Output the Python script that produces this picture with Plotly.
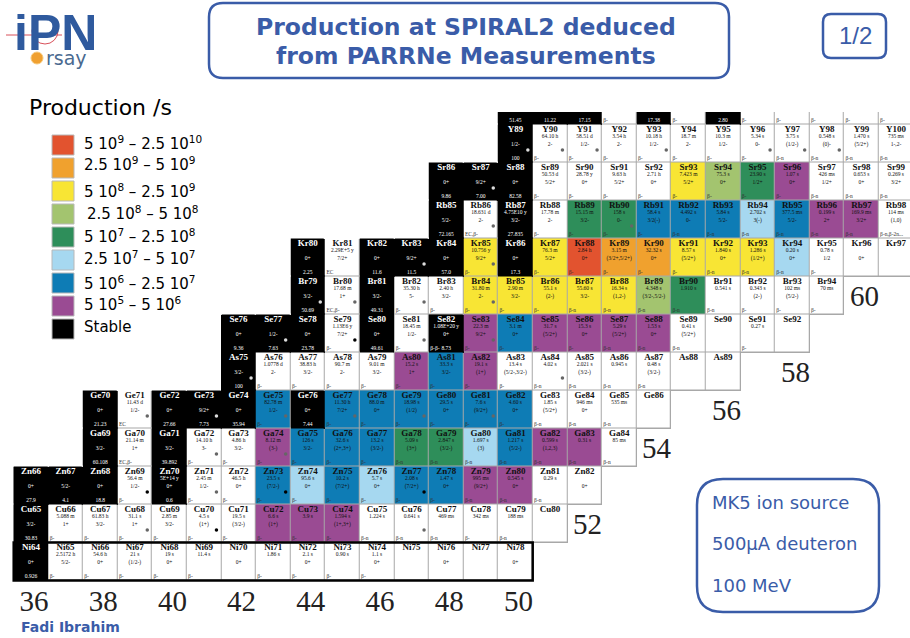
import plotly.graph_objects as go

# ---------- legend ----------
LEGEND_LABELS = ["5 10<sup>9</sup> – 2.5 10<sup>10</sup>", "2.5 10<sup>9</sup> – 5 10<sup>9</sup>",
                 "5 10<sup>8</sup> – 2.5 10<sup>9</sup>", "2.5 10<sup>8</sup> – 5 10<sup>8</sup>",
                 "5 10<sup>7</sup> – 2.5 10<sup>8</sup>", "2.5 10<sup>7</sup> – 5 10<sup>7</sup>",
                 "5 10<sup>6</sup> – 2.5 10<sup>7</sup>", "5 10<sup>5</sup> – 5 10<sup>6</sup>", "Stable"]
LEGEND_CODES = ["R", "O", "Y", "L", "G", "C", "B", "P", "K"]
CODE_COLORS = {"W": "#ffffff", "R": "#e2532f", "O": "#f0a12e", "Y": "#f8e534", "L": "#a3c46f",
               "G": "#2e8e5a", "C": "#a6d8f0", "B": "#0e7cb5", "P": "#9a4b93", "K": "#000000"}
CODE_ORDER = ["W", "R", "O", "Y", "L", "G", "C", "B", "P", "K"]

# ---------- isotope rows: symbol, Z, first N, production class, half-life, spin, abundance ----------
NI_CAT = "KWWWWWWWWWWWWWW"
NI_HL = ["", "2.5172 h", "54.6 h", "21 s", "19 s", "11.4 s", "", "1.86 s", "2.1 s", "0.90 s", "1.1 s", "", "", "", ""]
NI_SP = ["0+", "5/2-", "0+", "(1/2-)", "0+", "", "0+", "", "0+", "", "0+", "", "0+", "", "0+"]
NI_AB = ["0.926"]

CU_CAT = "KWWWWWWPPPWWWWWW"
CU_HL = ["", "5.088 m", "61.83 h", "31.1 s", "2.85 m", "4.5 s", "19.5 s", "6.6 s", "3.9 s", "1.594 s", "1.224 s", "0.641 s", "469 ms", "342 ms", "188 ms", ""]
CU_SP = ["3/2-", "1+", "3/2-", "1+", "3/2-", "(1+)", "(3/2-)", "(1+)", "", "(1+,3+)", "", "", "", "", "", ""]
CU_AB = ["30.83"]

ZN_CAT = "KKKWKWWBCBCBBPPWW"
ZN_HL = ["", "", "", "56.4 m", "5E+14 y", "2.45 m", "46.5 h", "23.5 s", "95.6 s", "10.2 s", "5.7 s", "2.08 s", "1.47 s", "995 ms", "0.545 s", "0.29 s", ""]
ZN_SP = ["0+", "5/2-", "0+", "1/2-", "0+", "1/2-", "0+", "(7/2-)", "0+", "(7/2+)", "0+", "(7/2+)", "0+", "(9/2+)", "0+", "", "0+"]
ZN_AB = ["27.9", "4.1", "18.8", "0.6"]

GA_CAT = "KWKWWPBBBGGCBPPW"
GA_HL = ["", "21.14 m", "", "14.10 h", "4.86 h", "8.12 m", "126 s", "32.6 s", "13.2 s", "5.09 s", "2.847 s", "1.697 s", "1.217 s", "0.599 s", "0.31 s", "85 ms"]
GA_SP = ["3/2-", "1+", "3/2-", "3-", "3/2-", "(3-)", "3/2-", "(2+,3+)", "(3/2-)", "(3+)", "(3/2-)", "(3)", "(5/2-)", "(1,2,3)", "", ""]
GA_AB = ["60.108", "39.892"]

GE_CAT = "KWKKKBKBBBBBBWWWW"
GE_HL = ["", "11.43 d", "", "", "", "82.78 m", "", "11.30 h", "88.0 m", "18.98 s", "29.5 s", "7.6 s", "4.60 s", "1.85 s", "946 ms", "535 ms", ""]
GE_SP = ["0+", "1/2-", "0+", "9/2+", "0+", "1/2-", "0+", "7/2+", "0+", "(1/2)", "0+", "(9/2+)", "0+", "(5/2+)", "0+", "", ""]
GE_AB = ["21.23", "27.66", "7.73", "35.94", "7.44"]

AS_CAT = "KWWWWPBPWWWWWWW"
AS_HL = ["", "1.0778 d", "38.83 h", "90.7 m", "9.01 m", "15.2 s", "33.3 s", "19.1 s", "13.4 s", "4.02 s", "2.021 s", "0.945 s", "0.48 s", "", ""]
AS_SP = ["3/2-", "2-", "3/2-", "2-", "3/2-", "1+", "3/2-", "(1+)", "(5/2-,3/2-)", "", "(3/2-)", "", "(3/2-)", "", ""]
AS_AB = ["100"]

SE_CAT = "KKKWKWKPBPPPPWWWW"
SE_HL = ["", "", "", "1.13E6 y", "", "18.45 m", "1.08E+20 y", "22.3 m", "3.1 m", "31.7 s", "15.3 s", "5.29 s", "1.53 s", "0.41 s", "", "0.27 s", ""]
SE_SP = ["0+", "1/2-", "0+", "7/2+", "0+", "1/2-", "0+", "9/2+", "0+", "(5/2+)", "0+", "(5/2+)", "0+", "(5/2+)", "", "", ""]
SE_AB = ["9.36", "7.63", "23.78", "49.61", "8.73"]

BR_CAT = "KWKWWYYYYYLGWWWW"
BR_HL = ["", "17.68 m", "", "35.30 h", "2.40 h", "31.80 m", "2.90 m", "55.1 s", "55.60 s", "16.34 s", "4.348 s", "1.910 s", "0.541 s", "0.343 s", "102 ms", "70 ms"]
BR_SP = ["3/2-", "1+", "3/2-", "5-", "3/2-", "2-", "3/2-", "(2-)", "3/2-", "(1,2-)", "(3/2-,5/2-)", "", "", "(2-)", "(5/2-)", ""]
BR_AB = ["50.69", "49.31"]

KR_CAT = "KWKKKYKYROOYYYCWWW"
KR_HL = ["", "2.29E+5 y", "", "", "", "10.756 y", "", "76.3 m", "2.84 h", "3.15 m", "32.32 s", "8.57 s", "1.840 s", "1.286 s", "0.20 s", "0.78 s", "", ""]
KR_SP = ["0+", "7/2+", "0+", "9/2+", "0+", "9/2+", "0+", "5/2+", "0+", "(3/2+,5/2+)", "0+", "(5/2+)", "0+", "(1/2+)", "0+", "1/2", "0+", ""]
KR_AB = ["2.25", "11.6", "11.5", "57.0", "17.3"]

RB_CAT = "KWKWGGBBBCBPPW"
RB_HL = ["", "18.631 d", "4.75E10 y", "17.78 m", "15.15 m", "158 s", "58.4 s", "4.492 s", "5.84 s", "2.702 s", "377.5 ms", "0.199 s", "169.9 ms", "114 ms"]
RB_SP = ["5/2-", "2-", "3/2-", "2-", "3/2-", "0-", "3/2(-)", "0-", "5/2-", "3(-)", "5/2-", "2+", "3/2+", "(1,0)"]
RB_AB = ["72.165", "27.835"]

SR_CAT = "KKKWWWWYLGPWWW"
SR_HL = ["", "", "", "50.53 d", "28.78 y", "9.63 h", "2.71 h", "7.423 m", "75.3 s", "23.90 s", "1.07 s", "426 ms", "0.653 s", "0.269 s"]
SR_SP = ["0+", "9/2+", "0+", "5/2+", "0+", "5/2+", "0+", "5/2+", "0+", "1/2+", "0+", "1/2+", "0+", "3/2+"]
SR_AB = ["9.86", "7.00", "82.58"]

Y_CAT = "KWWWWWWWWWWW"
Y_HL = ["", "64.10 h", "58.51 d", "3.54 h", "10.18 h", "18.7 m", "10.3 m", "5.34 s", "3.75 s", "0.548 s", "1.470 s", "735 ms"]
Y_SP = ["1/2-", "2-", "1/2-", "2-", "1/2-", "2-", "1/2-", "0-", "(1/2-)", "(0)-", "(5/2+)", "1-,2-"]
Y_AB = ["100"]

ZR_CAT = "KKKWKWKWWWWW"
ZR_HL = [""] * 12
ZR_SP = [""] * 12
ZR_AB = ["51.45", "11.22", "17.15", "17.38", "2.80"]

ROWS = [("Ni", 28, 36, NI_CAT, NI_HL, NI_SP, NI_AB), ("Cu", 29, 36, CU_CAT, CU_HL, CU_SP, CU_AB),
        ("Zn", 30, 36, ZN_CAT, ZN_HL, ZN_SP, ZN_AB), ("Ga", 31, 38, GA_CAT, GA_HL, GA_SP, GA_AB),
        ("Ge", 32, 38, GE_CAT, GE_HL, GE_SP, GE_AB), ("As", 33, 42, AS_CAT, AS_HL, AS_SP, AS_AB),
        ("Se", 34, 42, SE_CAT, SE_HL, SE_SP, SE_AB), ("Br", 35, 44, BR_CAT, BR_HL, BR_SP, BR_AB),
        ("Kr", 36, 44, KR_CAT, KR_HL, KR_SP, KR_AB), ("Rb", 37, 48, RB_CAT, RB_HL, RB_SP, RB_AB),
        ("Sr", 38, 48, SR_CAT, SR_HL, SR_SP, SR_AB), ("Y", 39, 50, Y_CAT, Y_HL, Y_SP, Y_AB),
        ("Zr", 40, 50, ZR_CAT, ZR_HL, ZR_SP, ZR_AB)]

ISOMER_GREY = ["Y89", "Y90", "Y91", "Y93", "Y96", "Y97", "Y98", "Sr87", "Rb86", "Rb90", "Kr83", "Kr85", "Br79", "Br80",
               "Br82", "Br84", "Se77", "Se81", "Se83", "As75", "As84", "Ge71", "Ge73", "Ge75", "Ge77", "Ge79", "Ge81",
               "Ga72", "Ga74", "Zn71", "Cu68", "Cu76"]
ISOMER_BLACK = ["Se79", "Zn69", "Zn73", "Zn77", "Cu70"]
DECAY_BN = ["Cu75", "Cu76", "Cu77", "Cu79", "Zn79", "Zn80", "Zn81", "Ga78", "Ga79", "Ga80", "Ga81", "Ga82", "Ga83", "Ga84",
            "Ge83", "Ge84", "Ge85", "As84", "As85", "As86", "As87", "Se87", "Se88", "Se89", "Br87", "Br88", "Br89", "Br90",
            "Br91", "Kr92", "Kr93", "Kr94", "Rb92", "Rb93", "Rb94", "Rb95", "Rb96", "Rb97", "Sr97", "Sr98", "Sr99",
            "Y97", "Y98", "Y99", "Y100"]
DECAY_EC = {"Ge71": "EC", "Kr81": "EC", "Rb86": "EC,β-", "Br80": "EC,β-", "Ga70": "EC,β-", "Se82": "β-β-", "Rb98": "β-n,β-2n..."}

MAGIC_N = [52, 54, 56, 58, 60]
MAGIC_Z = [29, 31, 32, 33, 35]
TICK_N = [36, 38, 40, 42, 44, 46, 48, 50]

BLUE = "#3a5ca8"
W, H = 910, 638
X_N36, DX = 31.0, 34.6
Y_Z28, DY = 561.5, 38.0
PLOT_TOP, PLOT_BOTTOM = 112, 582


def px(x):
    return x / W


def py(y):
    return 1 - y / H


# ---------- build matrices and text lists ----------
ns = list(range(36, 62))
zs = list(range(28, 41))
cat_m = [[None] * len(ns) for _ in zs]
base_m = [[None] * len(ns) for _ in zs]
name = dict(x=[], y=[], t=[], c=[])
small = dict(x=[], y=[], t=[], c=[])
beta = dict(x=[], y=[], t=[], c=[])
dots = dict(x=[], y=[], c=[])

for sym, z, n0, cats, hls, sps, abs_ in ROWS:
    ab_iter = iter(abs_)
    for i, code in enumerate(cats):
        n = n0 + i
        a = z + n
        label_txt = f"{sym}{a}"
        ri, ci = z - 28, n - 36
        cat_m[ri][ci] = CODE_ORDER.index(code)
        base_m[ri][ci] = 1 if code == "K" else 0
        col = "#ffffff" if code == "K" else "#111111"
        name["x"].append(n); name["y"].append(z + 0.35); name["t"].append(label_txt); name["c"].append(col)
        if hls[i]:
            small["x"].append(n); small["y"].append(z + 0.17); small["t"].append(hls[i]); small["c"].append(col)
        if sps[i]:
            small["x"].append(n); small["y"].append(z - 0.02); small["t"].append(sps[i]); small["c"].append(col)
        if code == "K":
            small["x"].append(n); small["y"].append(z - 0.39); small["t"].append(next(ab_iter)); small["c"].append(col)
        dec = None
        if label_txt in DECAY_EC:
            dec = DECAY_EC[label_txt]
        elif label_txt in DECAY_BN:
            dec = "β-n"
        elif code != "K" and hls[i]:
            dec = "β-"
        elif code == "W" and sym == "Zr":
            dec = "β-"
        if dec:
            beta["x"].append(n - 0.46); beta["y"].append(z - 0.39); beta["t"].append(dec)
            beta["c"].append("#ffffff" if code == "K" else "#333333")
        if label_txt in ISOMER_GREY or label_txt in ISOMER_BLACK:
            dots["x"].append(n + 0.36); dots["y"].append(z - 0.17)
            dots["c"].append("#000000" if label_txt in ISOMER_BLACK else ("#dddddd" if code == "K" else "#666666"))

n_steps = len(CODE_ORDER)
colorscale = []
for i, c in enumerate(CODE_ORDER):
    colorscale += [[i / n_steps, CODE_COLORS[c]], [(i + 1) / n_steps, CODE_COLORS[c]]]

fig = go.Figure()
fig.add_trace(go.Heatmap(x=ns, y=zs, z=base_m, zmin=0, zmax=1, showscale=False, hoverinfo="skip",
                         colorscale=[[0, "#a8a8a8"], [0.5, "#a8a8a8"], [0.5, "#000000"], [1, "#000000"]]))
fig.add_trace(go.Heatmap(x=ns, y=zs, z=cat_m, zmin=0, zmax=n_steps, showscale=False, hoverinfo="skip",
                         colorscale=colorscale, xgap=1, ygap=1))
fig.add_trace(go.Scatter(x=name["x"], y=name["y"], text=name["t"], mode="text", hoverinfo="skip", showlegend=False,
                         textfont=dict(family="Liberation Serif", size=9, color=name["c"], weight="bold")))
fig.add_trace(go.Scatter(x=small["x"], y=small["y"], text=small["t"], mode="text", hoverinfo="skip", showlegend=False,
                         textfont=dict(family="Liberation Serif", size=5.5, color=small["c"])))
fig.add_trace(go.Scatter(x=beta["x"], y=beta["y"], text=beta["t"], mode="text", textposition="middle right",
                         hoverinfo="skip", showlegend=False,
                         textfont=dict(family="Liberation Serif", size=5.5, color=beta["c"])))
fig.add_trace(go.Scatter(x=dots["x"], y=dots["y"], mode="markers", hoverinfo="skip", showlegend=False,
                         marker=dict(size=3.5, color=dots["c"])))

shapes = []
annotations = []


def rrect(x0, y0, x1, y1, r, width=2.5):
    a, b, c, d = px(x0), px(x1), py(y0), py(y1)
    rx, ry = r / W, r / H
    path = (f"M {a + rx} {c} L {b - rx} {c} Q {b} {c} {b} {c - ry} L {b} {d + ry} Q {b} {d} {b - rx} {d} "
            f"L {a + rx} {d} Q {a} {d} {a} {d + ry} L {a} {c - ry} Q {a} {c} {a + rx} {c} Z")
    shapes.append(dict(type="path", xref="paper", yref="paper", path=path, line=dict(color=BLUE, width=width)))


def label(x, y, text, size, color="#000000", family="DejaVu Sans", anchor="left", bold=False):
    font = dict(size=size, color=color, family=family)
    if bold:
        font["weight"] = "bold"
    annotations.append(dict(xref="paper", yref="paper", x=px(x), y=py(y), text=text, showarrow=False,
                            xanchor=anchor, yanchor="middle", font=font, borderpad=0, borderwidth=0))


# Ni closed-shell box
shapes.append(dict(type="rect", xref="x", yref="y", x0=35.5, x1=50.5, y0=27.5, y1=28.5,
                   line=dict(color="#000000", width=2.5), layer="above"))

# title boxes
rrect(209, 3, 729, 78, 14)
label(466, 27, "Production at SPIRAL2 deduced", 23.5, BLUE, anchor="center", bold=True)
label(466, 56, "from PARRNe Measurements", 23.5, BLUE, anchor="center", bold=True)
rrect(823, 14, 886, 58, 8)
label(855, 35, "1/2", 24, BLUE, family="Liberation Sans", anchor="center")

# info box
rrect(697, 479, 879, 612, 26)
label(712, 503, "MK5 ion source", 18, BLUE)
label(712, 543, "500µA deuteron", 18, BLUE)
label(712, 585, "100 MeV", 18, BLUE)

# legend
label(29, 107, "Production /s", 22)
LEG_Y = [143, 164, 191, 213, 236, 258, 283, 304, 327]
LEG_X = [84, 84, 84, 87, 84, 84, 84, 84, 84]
SW_Y = [135, 158, 181, 204, 227, 250, 273, 296, 319]
for txt, code, ly, lx, sy in zip(LEGEND_LABELS, LEGEND_CODES, LEG_Y, LEG_X, SW_Y):
    shapes.append(dict(type="rect", xref="paper", yref="paper", x0=px(52), x1=px(74), y0=py(sy), y1=py(sy + 20),
                       fillcolor=CODE_COLORS[code], line=dict(color="#b8b8b8", width=1)))
    label(lx, ly, txt, 15)

# magic-number labels on the chart
for n, z in zip(MAGIC_N, MAGIC_Z):
    annotations.append(dict(xref="x", yref="y", x=n, y=z, text=str(n), showarrow=False, xshift=3,
                            font=dict(family="Liberation Serif", size=29, color="#222222")))

# author
label(21, 627, "Fadi Ibrahim", 14, BLUE, bold=True)

# logo
label(14, 33, "iPN", 50, "#2f5a9e", family="Liberation Sans", bold=True)
for lx0, lx1 in [(19, 24), (38, 45), (72, 80)]:
    shapes.append(dict(type="rect", xref="paper", yref="paper", x0=px(lx0), x1=px(lx1), y0=py(14), y1=py(52),
                       fillcolor="rgba(255,255,255,0.55)", line=dict(width=0), layer="above"))
shapes.append(dict(type="line", xref="paper", yref="paper", x0=px(6), x1=px(62), y0=py(35), y1=py(35),
                   line=dict(color="#d8505a", width=1)))
shapes.append(dict(type="circle", xref="paper", yref="paper", x0=px(32), x1=px(58), y0=py(18), y1=py(44),
                   line=dict(color="#d8505a", width=1)))
shapes.append(dict(type="circle", xref="paper", yref="paper", x0=px(31), x1=px(43), y0=py(52), y1=py(64),
                   fillcolor="#f0a030", line=dict(color="#f7c878", width=1)))
label(46, 58, "rsay", 19, "#4a6a90")

fig.update_layout(
    width=W, height=H, margin=dict(l=0, r=0, t=0, b=0), paper_bgcolor="#ffffff", plot_bgcolor="#ffffff",
    showlegend=False, shapes=shapes, annotations=annotations,
    xaxis=dict(range=[36 - X_N36 / DX, 36 + (W - X_N36) / DX], domain=[0, 1], showgrid=False, zeroline=False,
               anchor="free", position=py(581), tickmode="array", tickvals=TICK_N,
               ticktext=[str(t) for t in TICK_N], ticks="", ticklen=0,
               tickfont=dict(family="Liberation Serif", size=29, color="#222222"),
               ticklabelshift=3, showline=False, automargin=False, fixedrange=True),
    yaxis=dict(range=[28 - (PLOT_BOTTOM - Y_Z28) / DY, 28 + (Y_Z28 - PLOT_TOP) / DY],
               domain=[py(PLOT_BOTTOM), py(PLOT_TOP)], visible=False, automargin=False, fixedrange=True),
)
fig.write_html("out.html", config={"displayModeBar": False},
               post_script="document.body.style.margin='0';document.body.style.overflow='hidden';")
